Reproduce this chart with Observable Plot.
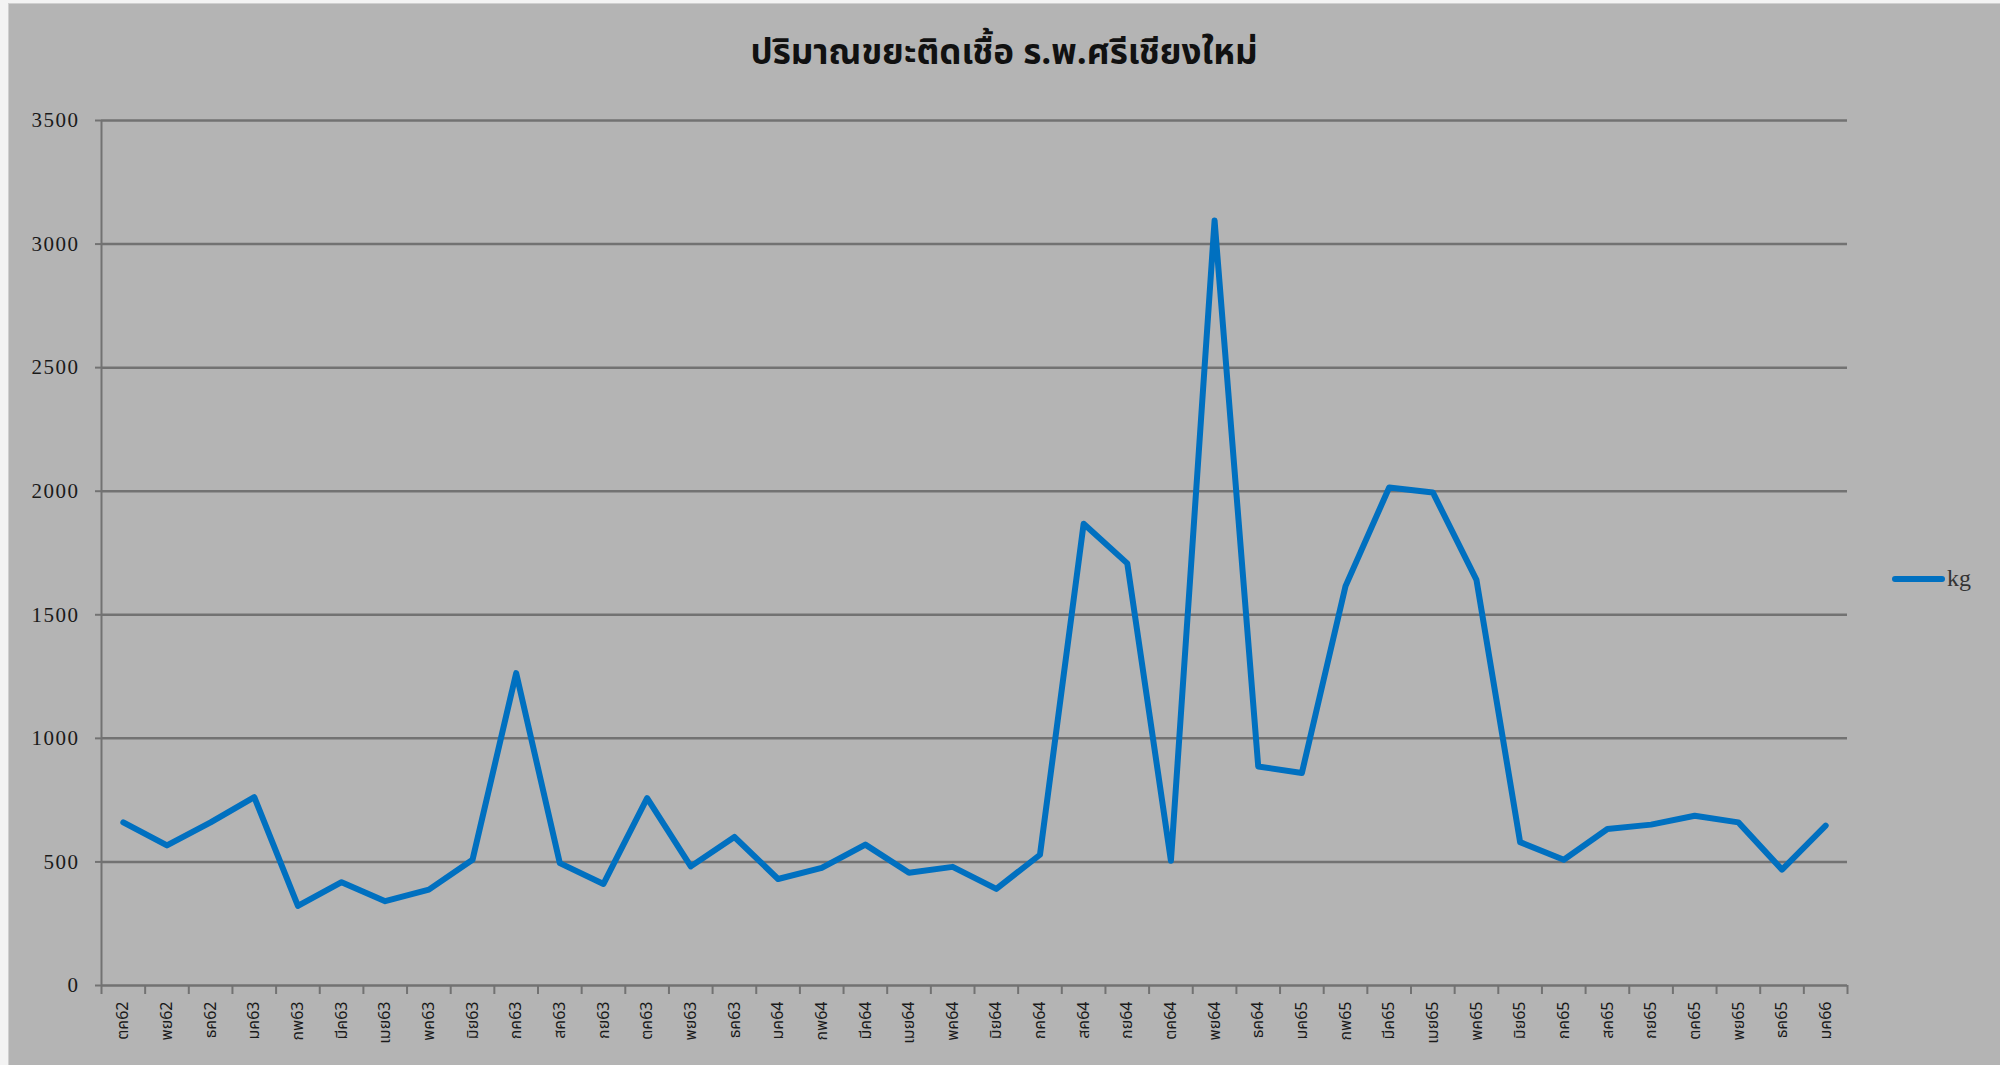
<!DOCTYPE html>
<html><head><meta charset="utf-8">
<script src="https://cdn.jsdelivr.net/npm/d3@7"></script>
<script src="https://cdn.jsdelivr.net/npm/@observablehq/plot@0.6"></script>
<style>
html,body{margin:0;padding:0;background:#f3f3f3;}
#wrap{position:relative;width:2000px;height:1065px;overflow:hidden;}
#panel{position:absolute;left:8px;top:3px;width:1992px;height:1062px;background:#b4b4b4;box-shadow:inset 1px 1px 0 #cfcfcf;}
#title{position:absolute;left:0;width:2008px;top:27px;text-align:center;font-weight:bold;font-size:35px;font-family:'Noto Sans Thai','Noto Sans','Loma','Garuda',sans-serif;color:#111;}
#chart{position:absolute;left:0;top:0;}
#chart svg g[aria-label="y-axis tick label"] text{letter-spacing:1.5px;}
#legend{position:absolute;left:1892px;top:565px;display:flex;align-items:center;}
#legend .sw{width:53px;height:6px;border-radius:3px;background:#0070c0;}
#legend .lab{font-family:'Liberation Serif',serif;font-size:24px;color:#333;margin-left:2px;}
</style></head>
<body><div id="wrap"><div id="panel"></div><div id="chart"></div><div id="title"></div><div id="legend"></div></div>
<script>
const title = "ปริมาณขยะติดเชื้อ ร.พ.ศรีเชียงใหม่";
const seriesName = "kg";
const months = ["ตค62","พย62","ธค62","มค63","กพ63","มีค63","เมย63","พค63","มิย63","กค63",
"สค63","กย63","ตค63","พย63","ธค63","มค64","กพ64","มีค64","เมย64","พค64",
"มิย64","กค64","สค64","กย64","ตค64","พย64","ธค64","มค65","กพ65","มีค65",
"เมย65","พค65","มิย65","กค65","สค65","กย65","ตค65","พย65","ธค65","มค66"];
const kg = [660,567,660,762,322,418,341,388,509,1264,
495,411,758,482,601,431,476,570,456,480,
391,529,1868,1708,505,3095,886,860,1616,2015,
1995,1641,580,509,633,651,687,660,469,647];
const yTicks = [0,500,1000,1500,2000,2500,3000,3500];

const data = months.map((m,i)=>({i, m, kg: kg[i]}));
const idx = d3.range(months.length);
const bounds = d3.range(months.length + 1).map(i => i - 0.5);

document.getElementById("title").textContent = title;
document.getElementById("legend").innerHTML = `<div class="sw"></div><div class="lab">${seriesName}</div>`;

const chart = Plot.plot({
  width: 2000, height: 1065,
  marginLeft: 101, marginRight: 153, marginTop: 120, marginBottom: 80,
  style: {background: "transparent", overflow: "visible", color: "#1a1a1a"},
  x: {domain: [-0.5, months.length - 0.5], axis: null, label: null},
  y: {domain: [0, 3500], axis: null, label: null},
  marks: [
    Plot.ruleY(yTicks, {stroke: "#727272", strokeWidth: 2.5}),
    Plot.ruleX([-0.5], {stroke: "#727272", strokeWidth: 2}),
    Plot.axisY({ticks: yTicks, label: null, tickSize: 6, tickPadding: 16, stroke: "#727272", strokeWidth: 2, fontSize: 21, fontFamily: "Liberation Serif, serif", fill: "#1a1a1a", tickFormat: d => String(d)}),
    Plot.axisX({ticks: bounds, label: null, tickSize: 9, tickFormat: () => "", stroke: "#727272", strokeWidth: 2}),
    Plot.axisX({ticks: idx, label: null, tickSize: 0, tickPadding: 16, tickRotate: -90, tickFormat: i => months[i], fontSize: 16, fontFamily: "Noto Sans Thai, Noto Sans, sans-serif", fill: "#1a1a1a"}),
    Plot.line(data, {x: "i", y: "kg", stroke: "#0070c0", strokeWidth: 6, strokeLinejoin: "round", strokeLinecap: "round"})
  ]
});
document.getElementById("chart").appendChild(chart);
</script></body></html>
